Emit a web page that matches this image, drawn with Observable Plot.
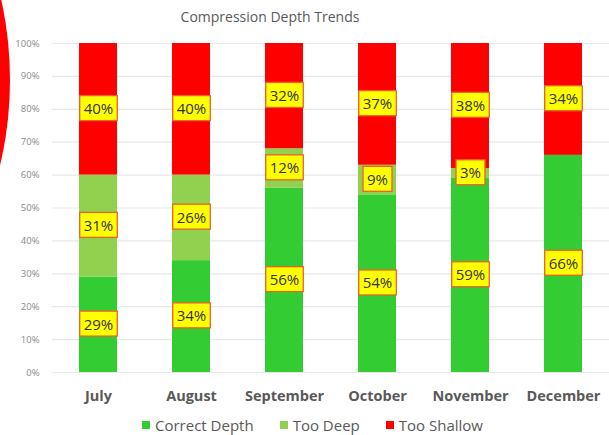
<!DOCTYPE html>
<html>
<head>
<meta charset="utf-8">
<script src="https://cdn.jsdelivr.net/npm/d3@7"></script>
<script src="https://cdn.jsdelivr.net/npm/@observablehq/plot@0.6"></script>
<style>
  html, body { margin: 0; padding: 0; background: #fff; }
  body { width: 609px; height: 435px; position: relative; overflow: hidden; font-family: "Open Sans", sans-serif; }
  #blob { position: absolute; left: -200px; top: -120px; width: 210px; height: 400px; border-radius: 50%; background: #ff0000; }
  #title { position: relative; width: 540px; height: 33px; line-height: 34px; text-align: center; font-size: 14px; color: #595959; }
  #chart { position: relative; height: 377px; }
  #legend { position: relative; height: 30px; display: flex; align-items: center; padding-left: 142px; font-size: 15px; line-height: 17px; color: #595959; }
  .item { display: flex; align-items: center; margin-right: 26px; }
  .sw { width: 8px; height: 8px; margin-right: 5px; }
</style>
</head>
<body>
<div id="blob"></div>
<div id="title">Compression Depth Trends</div>
<div id="chart"></div>
<div id="legend"></div>
<script>
const months = ["July", "August", "September", "October", "November", "December"];
const series = ["Correct Depth", "Too Deep", "Too Shallow"];
const correctDepth = [29, 34, 56, 54, 59, 66];
const tooDeep = [31, 26, 12, 9, 3, 0];
const tooShallow = [40, 40, 32, 37, 38, 34];
const colors = ["#33cc33", "#92d050", "#ff0000"];
const yTicks = [0, 10, 20, 30, 40, 50, 60, 70, 80, 90, 100];

const valuesBySeries = [correctDepth, tooDeep, tooShallow];
const data = [];
months.forEach((m, i) => {
  series.forEach((s, j) => data.push({month: m, series: s, value: valuesBySeries[j][i]}));
});

const plot = Plot.plot({
  width: 609,
  height: 377,
  marginTop: 10,
  marginBottom: 38,
  marginLeft: 52,
  marginRight: 0,
  style: {fontFamily: "'Open Sans', sans-serif", background: "transparent", overflow: "visible"},
  x: {domain: months, paddingInner: 0.594, paddingOuter: 0.27, label: null},
  y: {domain: [0, 100], label: null},
  color: {domain: series, range: colors},
  marks: [
    Plot.gridY(yTicks, {stroke: "#e8e8e8", strokeOpacity: 1, strokeWidth: 1.2}),
    Plot.barY(data, Plot.stackY({x: "month", y: "value", z: "series", fill: "series", order: series})),
    Plot.text(data, Plot.stackY({
      x: "month", y: "value", z: "series", order: series,
      text: d => d.value > 0 ? d.value + "%" : "",
      fill: "#333333", fontSize: 15
    })),
    Plot.axisY(yTicks, {tickSize: 0, tickPadding: 13, fontSize: 9.5, tickFormat: d => d + "%"}),
    Plot.axisX({tickSize: 0, tickPadding: 18, fontSize: 14.5, fontWeight: "bold"})
  ]
});
document.getElementById("chart").appendChild(plot);

// style axes
d3.select(plot).selectAll('g[aria-label="y-axis tick label"]').attr("fill", "#8a8a8a");
d3.select(plot).selectAll('g[aria-label="x-axis tick label"]').attr("fill", "#595959");

// yellow label boxes behind data labels
d3.select(plot).selectAll('g[aria-label="text"] text').each(function() {
  if (!this.textContent) return;
  const b = this.getBBox();
  const padX = 4, padY = 2.5;
  const tr = this.getAttribute("transform");
  const rect = document.createElementNS("http://www.w3.org/2000/svg", "rect");
  rect.setAttribute("x", b.x - padX);
  rect.setAttribute("y", b.y - padY);
  rect.setAttribute("width", b.width + 2 * padX);
  rect.setAttribute("height", b.height + 2 * padY);
  rect.setAttribute("fill", "#ffff00");
  rect.setAttribute("stroke", "#e8632b");
  rect.setAttribute("stroke-width", "1.3");
  if (tr) rect.setAttribute("transform", tr);
  this.parentNode.insertBefore(rect, this);
});

// legend
const legend = document.getElementById("legend");
series.forEach((s, i) => {
  const item = document.createElement("div");
  item.className = "item";
  const sw = document.createElement("div");
  sw.className = "sw";
  sw.style.background = colors[i];
  const lab = document.createElement("span");
  lab.textContent = s;
  item.appendChild(sw);
  item.appendChild(lab);
  legend.appendChild(item);
});
</script>
</body>
</html>
